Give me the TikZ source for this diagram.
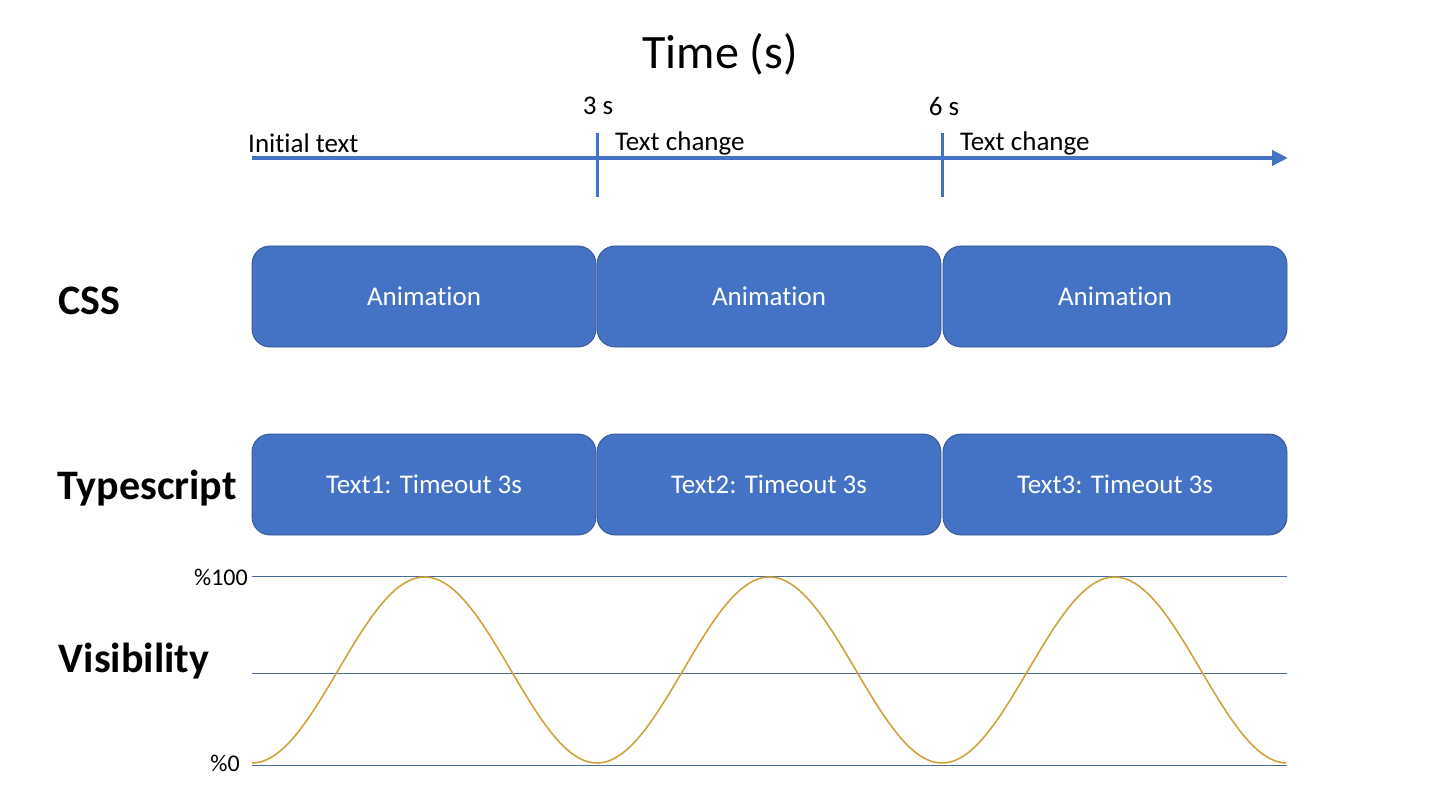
\documentclass[tikz,border=0pt]{standalone}
\usepackage{fontspec}
\setmainfont{Carlito}[Ligatures=NoCommon]
\usetikzlibrary{arrows.meta}
\definecolor{accblue}{HTML}{4472C4}
\definecolor{bordblue}{HTML}{2F528F}
\definecolor{gridblue}{HTML}{4A6A9A}
\definecolor{wave}{HTML}{CFA23A}
\tikzset{
  fs/.style={font=\fontsize{#1}{#1}\selectfont},
  phase/.style={draw=bordblue, line width=0.8pt, fill=accblue, rounded corners=18pt,
    minimum width=344pt, minimum height=101pt, inner sep=0pt, text=white, fs=27},
  rowlabel/.style={font=\fontsize{42}{42}\selectfont\bfseries},
  axis/.style={accblue, line width=4pt},
  tick/.style={accblue, line width=3pt},
  gridline/.style={gridblue, line width=1pt},
  small/.style={fs=27, inner sep=0pt},
}
\begin{document}
\begin{tikzpicture}[x=1pt,y=-1pt]
\useasboundingbox (0,0) rectangle (1440,810);
% title
\node[fs=48] (title) at (720,54) {Time (s)};
% axis
\coordinate (a0) at (252,158);
\coordinate (a1) at (1288,158);
\draw[axis,-{Triangle[length=16pt,width=15pt]}] (a0) -- (a1);
\coordinate (t1a) at (597,133); \coordinate (t1b) at (597,197);
\coordinate (t2a) at (942,133); \coordinate (t2b) at (942,197);
\draw[tick] (t1a) -- (t1b);
\draw[tick] (t2a) -- (t2b);
\node[small] (l3) at (598,106) {3 s};
\node[small] (l6) at (944,106) {6 s};
\node[small,anchor=west] (it) at (248,143) {Initial text};
\node[small,anchor=west] (tc1) at (615,143) {Text change};
\node[small,anchor=west] (tc2) at (960,143) {Text change};
% row labels
\node[rowlabel] (css) at (89,301) {CSS};
\node[rowlabel] (ts) at (147,488) {Typescript};
\node[rowlabel] (vis) at (134,661) {Visibility};
% CSS boxes
\node[phase] (c1) at (424,296.5) {Animation};
\node[phase] (c2) at (769,296.5) {Animation};
\node[phase] (c3) at (1115,296.5) {Animation};
% TS boxes
\node[phase] (s1) at (424,484.5) {Text1: Timeout 3s};
\node[phase] (s2) at (769,484.5) {Text2: Timeout 3s};
\node[phase] (s3) at (1115,484.5) {Text3: Timeout 3s};
% grid
\coordinate (g1a) at (252,576); \coordinate (g1b) at (1287,576);
\coordinate (g2a) at (252,673); \coordinate (g2b) at (1287,673);
\coordinate (g3a) at (252,765); \coordinate (g3b) at (1287,765);
\draw[gridline] (g1a) -- (g1b);
\draw[gridline] (g2a) -- (g2b);
\draw[gridline] (g3a) -- (g3b);
\node[fs=24,anchor=east,inner sep=0pt] (p100) at (248,577) {\%100};
\node[fs=24,anchor=east,inner sep=0pt] (p0) at (240,763) {\%0};
% wave
\draw[wave, line width=1.6pt, smooth] plot[domain=0:3, samples=240]
  ({252+345*\x}, {670+93*cos(360*\x)});
\end{tikzpicture}
\end{document}
